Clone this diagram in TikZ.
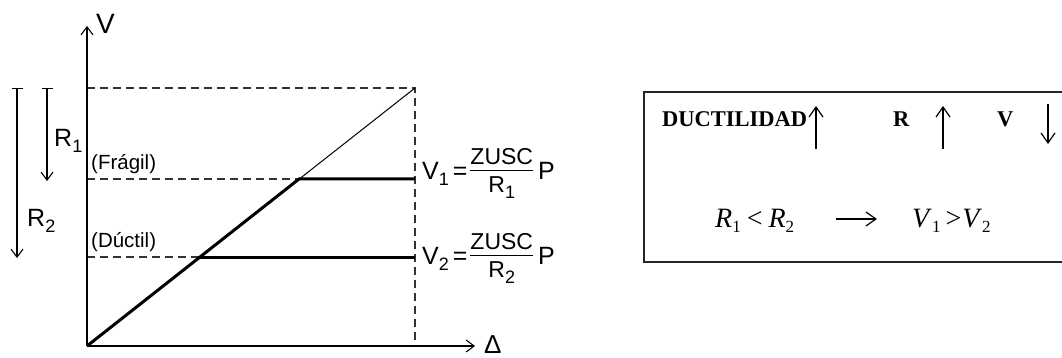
\documentclass[tikz,border=0pt]{standalone}
\usepackage{fontspec}
\setmainfont{Liberation Sans}
\newfontfamily\timesf{Liberation Serif}
\usetikzlibrary{arrows.meta}
\tikzset{
  axisln/.style={line width=1.1pt,-{Straight Barb[length=8pt,width=12pt,line width=1.1pt]}},
  dashln/.style={line width=1.1pt,dash pattern=on 8pt off 5pt,draw=black!80},
  thinln/.style={line width=1pt},
  thickln/.style={line width=3pt},
  rarrow/.style={line width=1.1pt,{Bar[width=11pt,line width=1.1pt]}-{Straight Barb[length=8pt,width=12pt,line width=1.1pt]}},
  boxarrow/.style={line width=1.2pt,-{Straight Barb[length=10pt,width=14pt,line width=1.2pt]}},
  lbl/.style={inner sep=0pt,font=\fontsize{20.5}{24}\selectfont},
  big/.style={inner sep=0pt,font=\fontsize{25}{29}\selectfont},
  tx/.style={inner sep=0pt,font=\timesf\bfseries\fontsize{22.5}{27}\selectfont},
  tm/.style={inner sep=0pt,font=\timesf\fontsize{28}{32}\selectfont},
}
\newcommand{\fracbox}[2]{\begin{tabular}{@{}c@{}}#1\\[-3pt]\noalign{\hrule height 1.3pt}\rule{0pt}{21pt}#2\end{tabular}}
\newcommand{\lowsub}[1]{\raisebox{-5pt}{\fontsize{17}{19}\selectfont\upshape #1}}
\newcommand{\sfsub}[1]{\raisebox{-6pt}{\fontsize{18}{20}\selectfont #1}}
\begin{document}
\begin{tikzpicture}[x=1pt,y=-1pt]
\useasboundingbox (0,0) rectangle (1062,358);
% key points
\coordinate (O) at (87,346);
\coordinate (Vtop) at (87,26);
\coordinate (Xend) at (475,346);
\coordinate (T0) at (87,88);
\coordinate (T1) at (415,88);
\coordinate (B1) at (415,346);
\coordinate (F0) at (87,179);
\coordinate (F1) at (299,179);
\coordinate (F2) at (415,179);
\coordinate (D0) at (87,257);
\coordinate (D1) at (200,257);
\coordinate (D2) at (415,257);
% dashed guides
\draw[dashln] (T0) -- (T1) -- (B1);
\draw[dashln] (F0) -- (F1);
\draw[dashln] (D0) -- (D1);
% response lines
\draw[thinln] (O) -- (T1);
\draw[thickln,line join=miter] (O) -- (F1) -- (F2);
\draw[thickln] (D1) -- (D2);
% axes
\draw[axisln] (O) -- (Vtop);
\draw[axisln] (O) -- (Xend);
\node[inner sep=0pt,anchor=west,font=\fontsize{28}{32}\selectfont] (Vl) at (96,24) {V};
\node[inner sep=0pt,anchor=north west,font=\fontsize{26}{30}\selectfont] (Dl) at (484,335) {Δ};
% R arrows
\coordinate (R1a) at (47,88);
\coordinate (R1b) at (47,181);
\coordinate (R2a) at (17,88);
\coordinate (R2b) at (17,258);
\draw[rarrow] (R1a) -- (R1b);
\draw[rarrow] (R2a) -- (R2b);
\node[big,anchor=west] (R1l) at (54,141) {R\sfsub{1}};
\node[big,anchor=west] (R2l) at (27,221) {R\sfsub{2}};
% state labels
\node[lbl,anchor=south west] (fr) at (91,174) {(Frágil)};
\node[lbl,anchor=south west] (du) at (91,252) {(Dúctil)};
% formulas
\node[big,anchor=west] (V1f) at (422,173) {V\sfsub{1}\kern4pt=\kern3pt\fontsize{23}{27}\selectfont\fracbox{ZUSC}{R\sfsub{1}}\kern5pt\fontsize{25}{29}\selectfont P};
\node[big,anchor=west] (V2f) at (422,258) {V\sfsub{2}\kern4pt=\kern3pt\fontsize{23}{27}\selectfont\fracbox{ZUSC}{R\sfsub{2}}\kern5pt\fontsize{25}{29}\selectfont P};
% right box
\coordinate (BX0) at (644,92);
\coordinate (BX1) at (1075,262);
\draw[line width=1.3pt,draw=black!85] (BX0) rectangle (BX1);
\node[tx,anchor=base west] (duc) at (662,127) {DUCTILIDAD};
\coordinate (a1a) at (816,149);
\coordinate (a1b) at (816,106);
\draw[boxarrow] (a1a) -- (a1b);
\node[tx,anchor=base west] (rr) at (893,127) {R};
\coordinate (a2a) at (943,149);
\coordinate (a2b) at (943,106);
\draw[boxarrow] (a2a) -- (a2b);
\node[tx,anchor=base west] (vv) at (997,127) {V};
\coordinate (a3a) at (1048,104);
\coordinate (a3b) at (1048,144);
\draw[boxarrow] (a3a) -- (a3b);
\node[tm,anchor=base west] (ineq1) at (715,227) {\textit{R}\lowsub{1}\kern6pt<\kern6pt\textit{R}\lowsub{2}};
\coordinate (ia) at (836,219);
\coordinate (ib) at (877,219);
\draw[boxarrow] (ia) -- (ib);
\node[tm,anchor=base west] (ineq2) at (912,227) {\textit{V}\lowsub{1}\kern5pt>\kern1pt\textit{V}\lowsub{2}};
\end{tikzpicture}
\end{document}
